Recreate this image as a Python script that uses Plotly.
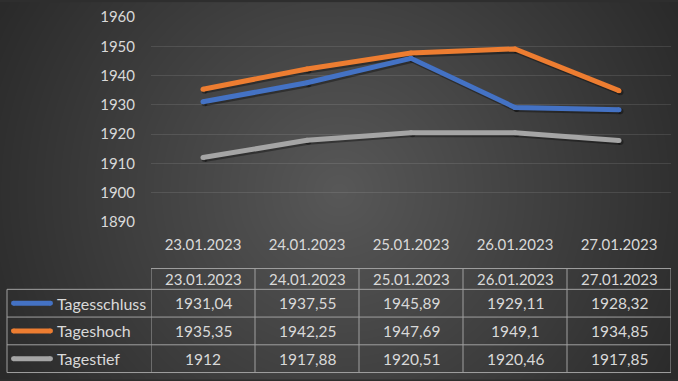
import zlib, struct, base64
import numpy as np
import plotly.graph_objects as go

# ---------------- data ----------------
dates = ["23.01.2023", "24.01.2023", "25.01.2023", "26.01.2023", "27.01.2023"]
tagesschluss = [1931.04, 1937.55, 1945.89, 1929.11, 1928.32]
tageshoch = [1935.35, 1942.25, 1947.69, 1949.1, 1934.85]
tagestief = [1912, 1917.88, 1920.51, 1920.46, 1917.85]
series_names = ["Tagesschluss", "Tageshoch", "Tagestief"]
series_values = [tagesschluss, tageshoch, tagestief]
series_colors = ["#4472C4", "#ED7D31", "#A5A5A5"]
y_min, y_max, y_step = 1890, 1960, 10

# ---------------- geometry ----------------
W, H = 678, 381
L, R, T, B = 151, 7, 15, 159
PW, PH = W - L - R, H - T - B
FONT = "Lato"
TXT = "#d9d9d9"
BORDER = "#a0a0a0"


def px(xp):
    return (xp - L) / PW


def py(yp):
    return (H - B - yp) / PH


# ---------------- background gradient (png) ----------------
def make_png(arr):
    h, w = arr.shape
    raw = b"".join(b"\x00" + arr[i].tobytes() for i in range(h))

    def chunk(t, d):
        return (struct.pack(">I", len(d)) + t + d +
                struct.pack(">I", zlib.crc32(t + d) & 0xFFFFFFFF))

    return (b"\x89PNG\r\n\x1a\n" +
            chunk(b"IHDR", struct.pack(">IIBBBBB", w, h, 8, 0, 0, 0, 0)) +
            chunk(b"IDAT", zlib.compress(raw, 9)) + chunk(b"IEND", b""))


yy, xx = np.mgrid[0:H, 0:W]
cx, cy = W / 2, H / 2
d = np.hypot(xx - cx, yy - cy) / np.hypot(cx, cy)
bg = (88 - (88 - 42) * np.clip(d, 0, 1)).astype(np.uint8)
bg_uri = "data:image/png;base64," + base64.b64encode(make_png(bg)).decode()

fig = go.Figure()

# invisible trace to establish categories on base axes
fig.add_trace(go.Scatter(x=dates, y=tagesschluss, mode="lines", opacity=0,
                         hoverinfo="skip", showlegend=False))

# shadows (overlay axes shifted slightly down-right)
for vals in series_values:
    fig.add_trace(go.Scatter(x=dates, y=vals, xaxis="x2", yaxis="y2",
                             mode="lines+markers",
                             line=dict(color="rgba(0,0,0,0.35)", width=6),
                             marker=dict(size=6, color="rgba(0,0,0,0.35)"),
                             hoverinfo="skip", showlegend=False))

# main lines
for name, vals, col in zip(series_names, series_values, series_colors):
    fig.add_trace(go.Scatter(x=dates, y=vals, name=name, xaxis="x3", yaxis="y3",
                             mode="lines+markers",
                             line=dict(color=col, width=5),
                             marker=dict(size=5, color=col, line=dict(width=0)),
                             showlegend=False))

dx = 1.5 / (PW / len(dates))
dy = 1.5 * (y_max - y_min) / PH

shapes = []
annotations = []

# table borders
row_edges = [269, 290, 318, 346, 374]
shapes.append(dict(type="line", xref="paper", yref="paper", x0=0, x1=1,
                   y0=py(row_edges[0]), y1=py(row_edges[0]),
                   line=dict(color=BORDER, width=1)))
for ye in row_edges[1:]:
    shapes.append(dict(type="line", xref="paper", yref="paper", x0=px(7), x1=1,
                       y0=py(ye), y1=py(ye), line=dict(color=BORDER, width=1)))
for i in range(len(dates) + 1):
    shapes.append(dict(type="line", xref="x", yref="paper", x0=i - 0.5, x1=i - 0.5,
                       y0=py(row_edges[0]), y1=py(row_edges[-1]),
                       line=dict(color=BORDER, width=1)))
shapes.append(dict(type="line", xref="paper", yref="paper", x0=px(7), x1=px(7),
                   y0=py(row_edges[1]), y1=py(row_edges[-1]),
                   line=dict(color=BORDER, width=1)))

# header texts
for dte in dates:
    annotations.append(dict(x=dte, xref="x", y=py(279.5), yref="paper", text=dte,
                            showarrow=False, xanchor="center", yanchor="middle",
                            font=dict(family=FONT, size=15, color=TXT)))

row_centers = [304, 332, 360]
for name, vals, col, yc in zip(series_names, series_values, series_colors, row_centers):
    rr = 2.5
    shapes.append(dict(type="rect", xref="paper", yref="paper",
                       x0=px(11 + rr), x1=px(53 - rr), y0=py(yc - rr), y1=py(yc + rr),
                       fillcolor=col, line=dict(width=0)))
    for xe in (11 + rr, 53 - rr):
        shapes.append(dict(type="circle", xref="paper", yref="paper",
                           x0=px(xe - rr), x1=px(xe + rr), y0=py(yc - rr), y1=py(yc + rr),
                           fillcolor=col, line=dict(width=0)))
    annotations.append(dict(x=px(55), xref="paper", y=py(yc), yref="paper", text=name,
                            showarrow=False, xanchor="left", yanchor="middle",
                            font=dict(family=FONT, size=16, color=TXT)))
    for dte, v in zip(dates, vals):
        annotations.append(dict(x=dte, xref="x", y=py(yc), yref="paper",
                                text=format(v, "g").replace(".", ","),
                                showarrow=False, xanchor="center", yanchor="middle",
                                font=dict(family=FONT, size=15.5, color=TXT)))

cat_axis = dict(type="category", categoryorder="array", categoryarray=dates)
fig.update_layout(
    width=W, height=H, autosize=False,
    margin=dict(l=L, r=R, t=T, b=B, pad=0),
    paper_bgcolor="#2e2e2e", plot_bgcolor="rgba(0,0,0,0)",
    font=dict(family=FONT, size=15, color=TXT),
    showlegend=False,
    xaxis=dict(**cat_axis, range=[-0.5, len(dates) - 0.5], showgrid=False,
               zeroline=False, showline=False, ticks="", ticklabelstandoff=12,
               tickfont=dict(family=FONT, size=15, color=TXT)),
    yaxis=dict(range=[y_min, y_max], dtick=y_step, tick0=y_min, showgrid=True,
               gridcolor="rgba(217,217,217,0.13)", gridwidth=1, zeroline=False,
               showline=False, ticks="", ticklabelstandoff=15,
               tickfont=dict(family=FONT, size=15, color=TXT)),
    xaxis2=dict(**cat_axis, overlaying="x", visible=False,
                range=[-0.5 - dx, len(dates) - 0.5 - dx]),
    yaxis2=dict(overlaying="y", visible=False, range=[y_min + dy, y_max + dy]),
    xaxis3=dict(**cat_axis, overlaying="x", visible=False,
                range=[-0.5, len(dates) - 0.5]),
    yaxis3=dict(overlaying="y", visible=False, range=[y_min, y_max]),
    shapes=shapes,
    annotations=annotations,
    images=[dict(source=bg_uri, xref="paper", yref="paper", x=px(0), y=py(0),
                 sizex=W / PW, sizey=H / PH, sizing="stretch",
                 xanchor="left", yanchor="top", layer="below")],
)

fig.write_html("out.html", config={"displayModeBar": False},
               post_script="document.body.style.margin='0';document.body.style.overflow='hidden';")
